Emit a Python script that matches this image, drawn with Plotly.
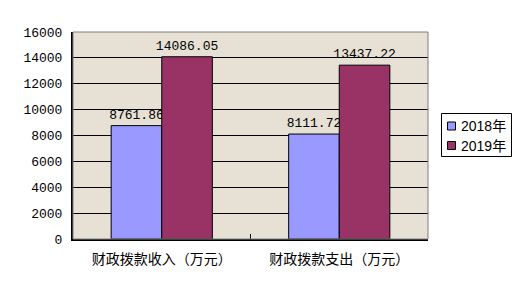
import plotly.graph_objects as go

categories = ["财政拨款收入（万元）", "财政拨款支出（万元）"]
series_names = ["2018年", "2019年"]
series_colors = ["#9999FF", "#993366"]
values_2018 = [8761.86, 8111.72]
values_2019 = [14086.05, 13437.22]
label_2018 = ["8761.86", "8111.72"]
label_2019 = ["14086.05", "13437.22"]
y_ticks = [0, 2000, 4000, 6000, 8000, 10000, 12000, 14000, 16000]

W, H = 525, 292
ML, MR, MT, MB = 73, 97, 32, 53
PW, PH = W - ML - MR, H - MT - MB


def px(x):
    return (x - ML) / PW


def py(y):
    return (H - MB - y) / PH


num_font = dict(family="Liberation Mono, Noto Sans CJK SC, monospace", size=13, color="black")

fig = go.Figure()
for name, vals, labels, col in [
    (series_names[0], values_2018, label_2018, series_colors[0]),
    (series_names[1], values_2019, label_2019, series_colors[1]),
]:
    fig.add_trace(go.Bar(
        x=categories, y=vals, name=name,
        marker=dict(color=col, line=dict(color="black", width=1)),
        text=labels, textposition="outside", textfont=num_font,
        cliponaxis=False, constraintext="none",
    ))

shapes = [dict(type="rect", xref="paper", yref="paper", x0=0, x1=1, y0=0, y1=1,
               line=dict(color="#808080", width=1), layer="above")]
annotations = []
# manual legend
shapes.append(dict(type="rect", xref="paper", yref="paper",
                   x0=px(441.5), x1=px(511.5), y0=py(156.5), y1=py(113.5),
                   line=dict(color="black", width=1), fillcolor="white"))
for i, (name, col) in enumerate(zip(series_names, series_colors)):
    cy = 126 + i * 19.5
    shapes.append(dict(type="rect", xref="paper", yref="paper",
                       x0=px(447.5), x1=px(455.5), y0=py(cy + 4), y1=py(cy - 4),
                       line=dict(color="black", width=1), fillcolor=col))
    annotations.append(dict(xref="paper", yref="paper", x=px(459), y=py(cy),
                            xanchor="left", yanchor="middle", showarrow=False,
                            text=name,
                            font=dict(family="Liberation Sans, Noto Sans CJK SC, sans-serif",
                                      size=14, color="black")))

fig.update_layout(
    width=W, height=H,
    margin=dict(l=ML, r=MR, t=MT, b=MB, autoexpand=False),
    paper_bgcolor="white",
    plot_bgcolor="#E6E0D5",
    barmode="group",
    bargap=0.43,
    bargroupgap=0,
    showlegend=False,
    shapes=shapes,
    annotations=annotations,
)

fig.update_yaxes(
    range=[0, 16000], tickvals=y_ticks, ticktext=[str(v) for v in y_ticks],
    showgrid=True, gridcolor="black", gridwidth=1,
    showline=True, linecolor="black", linewidth=2,
    ticks="", ticklabelstandoff=6,
    tickfont=num_font, zeroline=False,
)
fig.update_xaxes(
    showline=True, linecolor="black", linewidth=2,
    tickson="boundaries", ticks="inside", ticklen=5, tickcolor="black", tickwidth=1,
    tickfont=dict(family="Noto Sans CJK SC, sans-serif", size=14, color="black"),
    ticklabelstandoff=6,
)

fig.write_html("out.html")
